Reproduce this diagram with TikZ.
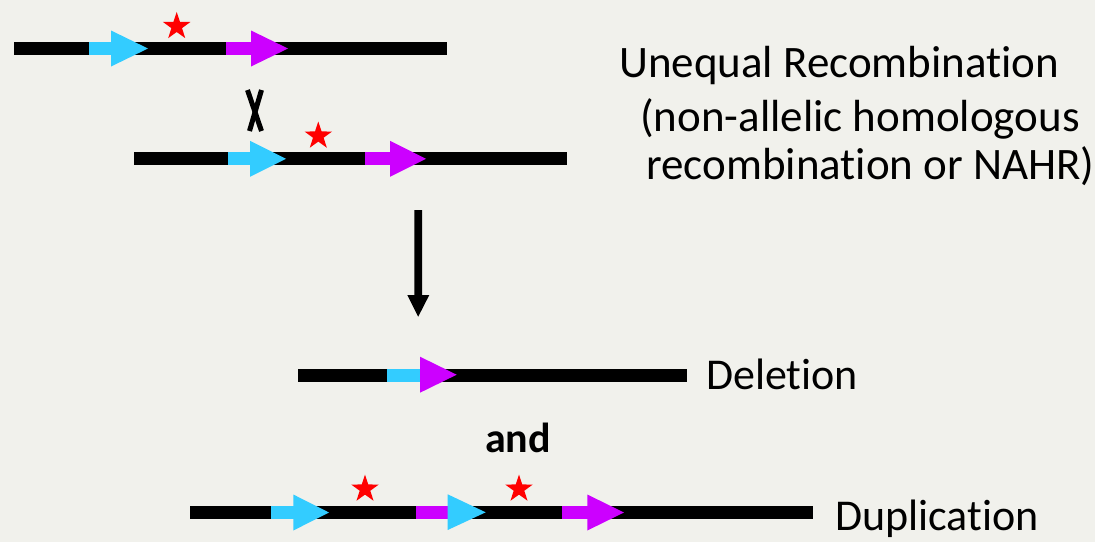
\documentclass[tikz,border=0pt]{standalone}
\usepackage{fontspec}
\setmainfont[Ligatures=NoCommon]{Carlito}
\definecolor{bg}{RGB}{241,241,236}
\definecolor{gcyan}{RGB}{51,204,255}
\definecolor{gmag}{RGB}{204,0,255}
\newcommand\chrom[3]{\fill[black] (#2,#1-6.5) rectangle (#3,#1+6.5);}
\newcommand\gene[5]{%
  \fill[#5] (#2,#1-6.5) rectangle (#3+0.5,#1+6.5);
  \fill[#5] (#3,#1-18) -- (#4,#1) -- (#3,#1+18) -- cycle;}
\newcommand\genestar[2]{%
  \fill[red] ($(#1,#2)+(-90:14.5)$) \foreach \k in {1,...,9}{ -- ($(#1,#2)+({-90+36*\k}:{mod(\k,2)==1 ? 5.6 : 14.5})$)} -- cycle;}
\usetikzlibrary{calc}
\tikzset{lbl/.style={inner sep=0pt, anchor=base west, font=\fontsize{44}{53}\selectfont},
  title/.style={lbl, font=\fontsize{45}{53}\selectfont},
  xstroke/.style={line width=5pt, black}}
\begin{document}
\begin{tikzpicture}[x=1pt,y=-1pt]
\fill[bg] (0,0) rectangle (1095,542);
\useasboundingbox (0,0) rectangle (1095,542);
% line 1
\chrom{48.5}{14}{447}
\gene{48.5}{89}{111}{148}{gcyan}
\gene{48.5}{226}{251}{288}{gmag}
\genestar{176.7}{26.4}
% crossover
\coordinate (xa1) at (247.5,90); \coordinate (xa2) at (261.5,131);
\coordinate (xb1) at (261.5,90); \coordinate (xb2) at (249.5,131);
\draw[xstroke] (xa1) -- (xa2);
\draw[xstroke] (xb1) -- (xb2);
% line 2
\chrom{158.8}{134}{567}
\gene{158.8}{227.7}{250}{286}{gcyan}
\gene{158.8}{365}{390}{426}{gmag}
\genestar{318.3}{136}
% down arrow
\coordinate (dtop) at (418.2,210);
\coordinate (dtip) at (418.2,316.7);
\fill[black] ($(dtop)+(-3.85,0)$) -- ($(dtop)+(3.85,0)$) -- (422.05,295) -- (429.3,295) -- (dtip) -- (407.3,295) -- (414.35,295) -- cycle;
% deletion
\chrom{375}{298}{687}
\fill[gcyan] (387.3,368.5) rectangle (420.5,381.5);
\fill[gmag] (420,356.7) -- (456.7,374.7) -- (420,392.7) -- cycle;
% duplication
\chrom{512.5}{190}{813}
\gene{512.5}{271}{293.3}{329}{gcyan}
\fill[gmag] (416,506) rectangle (448.2,519);
\fill[gcyan] (447.7,494.3) -- (485.7,512.3) -- (447.7,530) -- cycle;
\gene{512.5}{561.7}{587.3}{624}{gmag}
\genestar{365}{489}
\genestar{519}{489}
% texts
\node[title] (t1) at (619,77) {Unequal Recombination};
\node[title] (t2) at (640,131) {(non-allelic homologous};
\node[title] (t3) at (646,179) {recombination or NAHR)};
\node[lbl] (del) at (706,389) {Deletion};
\node[lbl, font=\fontsize{42}{50}\selectfont\bfseries] (and) at (485,452) {and};
\node[lbl] (dup) at (835,530) {Duplication};
\end{tikzpicture}
\end{document}
